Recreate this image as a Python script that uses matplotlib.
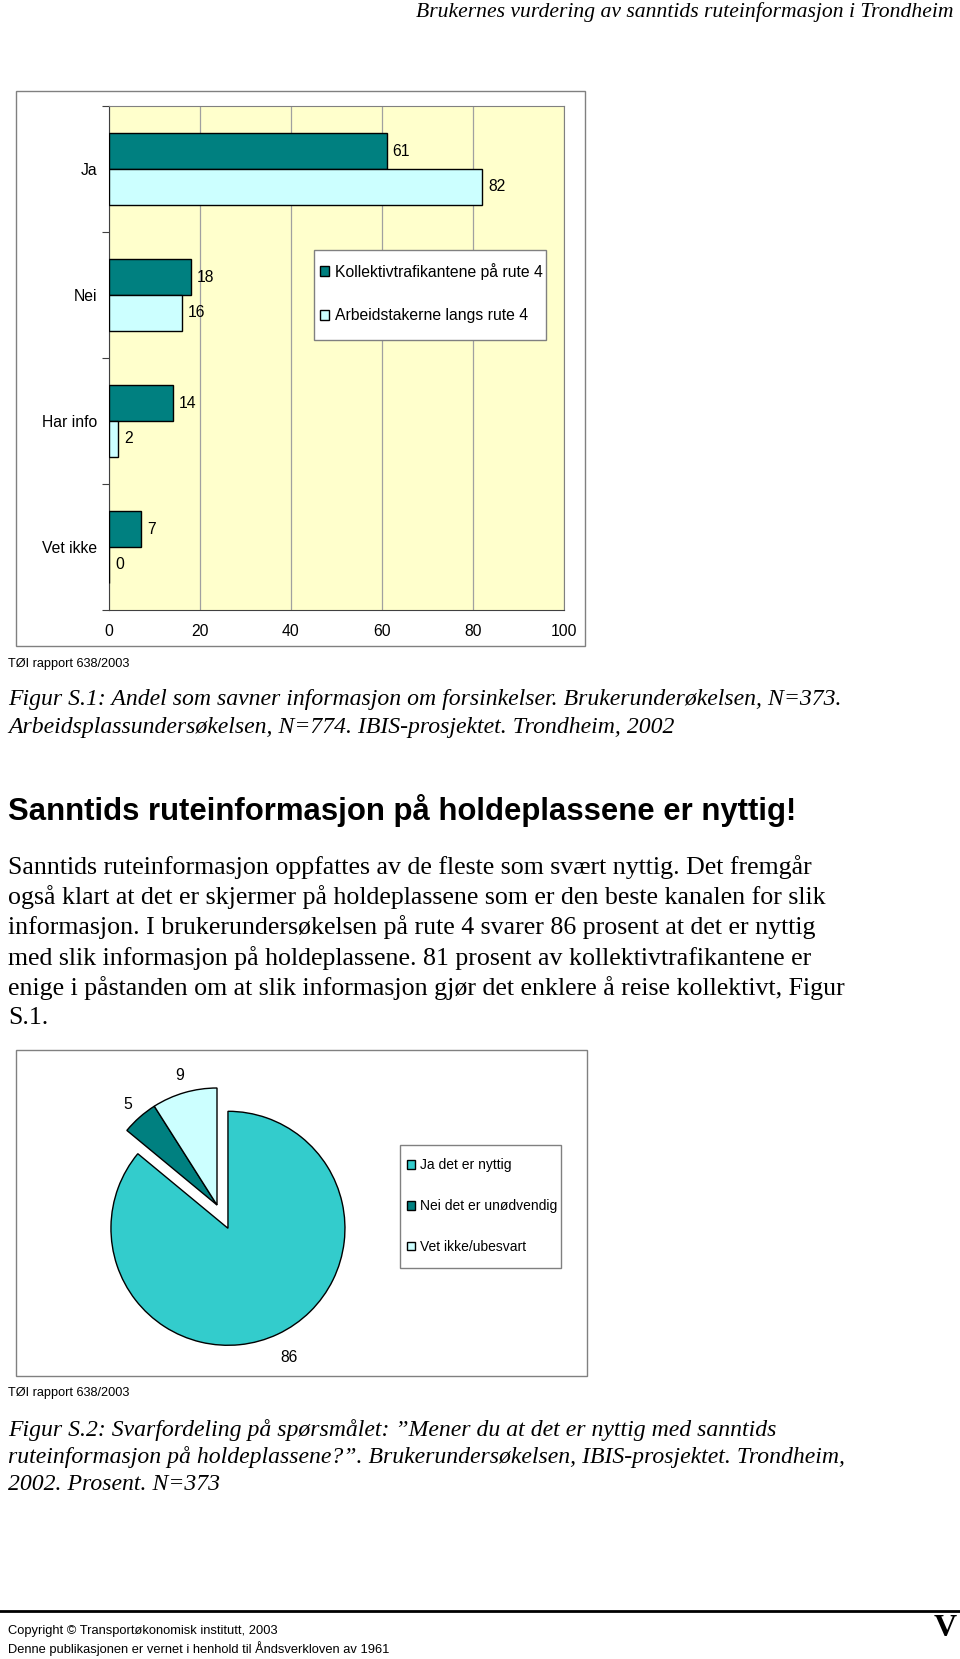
import matplotlib
matplotlib.use("Agg")
import matplotlib.pyplot as plt
from matplotlib.patches import Rectangle
import numpy as np

W, H = 960, 1659

# bar chart data
categories = ["Ja", "Nei", "Har info", "Vet ikke"]
kollektiv = [61, 18, 14, 7]
arbeid = [82, 16, 2, 0]
series_names = ["Kollektivtrafikantene på rute 4", "Arbeidstakerne langs rute 4"]
xticks = [0, 20, 40, 60, 80, 100]

# pie chart data
pie_labels = ["Ja det er nyttig", "Nei det er unødvendig", "Vet ikke/ubesvart"]
pie_values = [86, 5, 9]

header = "Brukernes vurdering av sanntids ruteinformasjon i Trondheim"
source = "TØI rapport 638/2003"
caption1 = ["Figur S.1: Andel som savner informasjon om forsinkelser. Brukerunderøkelsen, N=373.",
            "Arbeidsplassundersøkelsen, N=774. IBIS-prosjektet. Trondheim, 2002"]
heading = "Sanntids ruteinformasjon på holdeplassene er nyttig!"
body = ["Sanntids ruteinformasjon oppfattes av de fleste som svært nyttig. Det fremgår",
        "også klart at det er skjermer på holdeplassene som er den beste kanalen for slik",
        "informasjon. I brukerundersøkelsen på rute 4 svarer 86 prosent at det er nyttig",
        "med slik informasjon på holdeplassene. 81 prosent av kollektivtrafikantene er",
        "enige i påstanden om at slik informasjon gjør det enklere å reise kollektivt, Figur",
        "S.1."]
caption2 = ["Figur S.2: Svarfordeling på spørsmålet: \u201dMener du at det er nyttig med sanntids",
            "ruteinformasjon på holdeplassene?\u201d. Brukerundersøkelsen, IBIS-prosjektet. Trondheim,",
            "2002. Prosent. N=373"]
footer = ["Copyright © Transportøkonomisk institutt, 2003",
          "Denne publikasjonen er vernet i henhold til Åndsverkloven av 1961"]

SANS = "Liberation Sans"
SERIF = "Liberation Serif"
DARK = "#008080"
LIGHT = "#CCFFFF"
MID = "#33CCCC"
GREY = "#808080"
FS = 11.3


def box(x0, y0, x1, y1):
    return [x0 / W, 1 - y1 / H, (x1 - x0) / W, (y1 - y0) / H]


def fx(x):
    return x / W


def fy(y):
    return 1 - y / H


def frame(x0, y0, x1, y1, color=GREY, face="none", z=1):
    fig.patches.append(Rectangle((fx(x0), fy(y1)), (x1 - x0) / W, (y1 - y0) / H,
                                 transform=fig.transFigure, facecolor=face,
                                 edgecolor=color, linewidth=1, zorder=z))


fig = plt.figure(figsize=(W / 100, H / 100), dpi=100)
fig.patch.set_facecolor("white")

fig.text(fx(953), fy(12), header, family=SERIF, style="italic", fontsize=15.6,
         ha="right", va="center")

# frames around the charts
frame(16, 91, 585, 646)
frame(16, 1050, 587, 1376)

# ---- bar chart ----
ax = fig.add_axes(box(109, 106, 564, 610))
ax.set_facecolor("#FFFFCC")
pos = np.arange(len(categories))
h = 0.283
ax.barh(pos - h / 2, kollektiv, height=h, color=DARK, edgecolor="black",
        linewidth=1, label=series_names[0], zorder=3)
ax.barh(pos + h / 2, arbeid, height=h, color=LIGHT, edgecolor="black",
        linewidth=1, label=series_names[1], zorder=3)
for p, v in zip(pos, kollektiv):
    ax.text(v + 1.3, p - h / 2, str(v), va="center", ha="left", family=SANS, fontsize=FS)
for p, v in zip(pos, arbeid):
    ax.text(v + 1.3, p + h / 2, str(v), va="center", ha="left", family=SANS, fontsize=FS)

ax.set_xlim(0, 100)
ax.set_ylim(len(categories) - 0.5, -0.5)
ax.set_xticks(xticks)
ax.set_xticklabels([str(t) for t in xticks], family=SANS, fontsize=FS)
ax.tick_params(axis="x", length=0, pad=10)
ax.set_yticks(np.arange(len(categories) + 1) - 0.5)
ax.set_yticklabels([])
ax.tick_params(axis="y", which="major", length=5, direction="out", color="#404040")
ax.set_yticks(pos, minor=True)
ax.set_yticklabels(categories, minor=True, family=SANS, fontsize=FS)
ax.tick_params(axis="y", which="minor", length=0, pad=8.5)
ax.xaxis.grid(True, color="#A0A0A0", linewidth=0.9, zorder=0)
ax.set_axisbelow(True)
for s in ["top", "right"]:
    ax.spines[s].set_color(GREY)
for s in ["left", "bottom"]:
    ax.spines[s].set_color("#404040")

# legend box (white, grey border) with the entries inside it
frame(314, 250, 546, 340, face="white", z=5)
fig.legend(loc="center left", bbox_to_anchor=(fx(320), fy(293)), borderaxespad=0,
           handles=ax.containers[:], labels=series_names,
           prop={"family": SANS, "size": FS}, frameon=False, borderpad=0,
           handlelength=0.6, handleheight=0.6, handletextpad=0.35,
           labelspacing=1.82).set_zorder(6)

fig.text(fx(8), fy(664), source, family=SANS, fontsize=9.2, ha="left", va="center")

for i, line in enumerate(caption1):
    fig.text(fx(8), fy(699 + 29 * i), line, family=SERIF, style="italic",
             fontsize=17.1, ha="left", va="center")

fig.text(fx(8), fy(811), heading, family=SANS, weight="bold", fontsize=22.4,
         ha="left", va="center")

for i, line in enumerate(body):
    fig.text(fx(8), fy(867 + 30.2 * i), line, family=SERIF, fontsize=18.6,
             ha="left", va="center")

# ---- pie chart ----
ax2 = fig.add_axes(box(217 - 175.5, 1205 - 175.5, 217 + 175.5, 1205 + 175.5))
wedges, texts = ax2.pie(pie_values, colors=[MID, DARK, LIGHT], startangle=90,
                        counterclock=False, explode=[0.22, 0, 0],
                        wedgeprops=dict(edgecolor="black", linewidth=1))
# value labels placed just outside each wedge, along its bisector
label_dist = [1.22, 1.15, 1.15]
for w, v, d in zip(wedges, pie_values, label_dist):
    mid = np.deg2rad((w.theta1 + w.theta2) / 2)
    cx, cy = w.center
    ax2.text(cx + d * np.cos(mid), cy + d * np.sin(mid), str(v), ha="center",
             va="center", family=SANS, fontsize=FS)
ax2.set_xlim(-1.5, 1.5)
ax2.set_ylim(-1.5, 1.5)
ax2.set_aspect("equal")
ax2.axis("off")

frame(400, 1145, 561, 1268, face="white", z=5)
fig.legend(wedges, pie_labels, loc="center left", bbox_to_anchor=(fx(407), fy(1206)),
           borderaxespad=0, prop={"family": SANS, "size": 10}, frameon=False,
           borderpad=0, handlelength=0.6, handleheight=0.6, handletextpad=0.35,
           labelspacing=1.94).set_zorder(6)

fig.text(fx(8), fy(1393), source, family=SANS, fontsize=9.2, ha="left", va="center")

for i, line in enumerate(caption2):
    fig.text(fx(8), fy(1430 + 27 * i), line, family=SERIF, style="italic",
             fontsize=17.1, ha="left", va="center")

# footer
fig.add_artist(plt.Line2D([0, 1], [fy(1611), fy(1611)], color="black", linewidth=2,
                          transform=fig.transFigure))
fig.text(fx(8), fy(1631), footer[0], family=SANS, fontsize=9.3, ha="left", va="center")
fig.text(fx(8), fy(1649), footer[1], family=SANS, fontsize=9.3, ha="left", va="center")
fig.text(fx(957), fy(1629), "V", family=SERIF, weight="bold", fontsize=23,
         ha="right", va="center")

fig.savefig("out.png", dpi=100)
